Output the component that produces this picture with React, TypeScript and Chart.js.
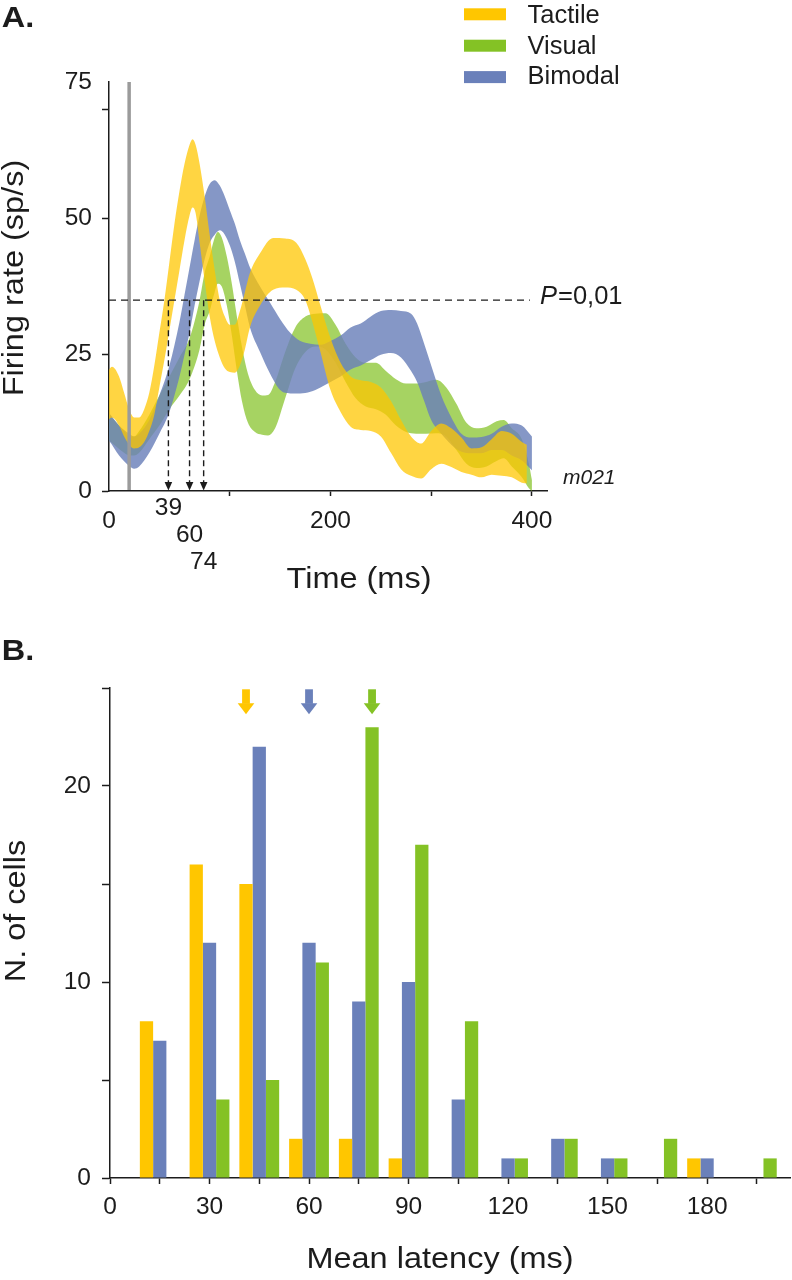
import React, { useEffect, useRef } from 'react';
import { Chart, registerables } from 'chart.js';

Chart.register(...registerables);

const FONT = "'Liberation Sans', Arial, Helvetica, sans-serif";
const INK = '#1c1c1c';

// ---------------- Panel A : firing rate bands (mean ± SE) ----------------
const tactileTime = [-25, -17, -10, -5, 0, 5, 10, 15, 20, 25, 30, 35, 40, 45, 50, 55, 60, 63, 66, 70, 75, 80, 85, 90, 95, 100, 105, 110, 115, 120, 130, 143, 155, 166, 175, 182, 190, 200, 210, 220, 230, 240, 250, 260, 270, 280, 290, 300, 310, 320, 330, 340, 350, 360, 370, 380, 390, 395];
const tactileUpper = [20, 22.8, 21, 18, 15, 13.5, 13.5, 15, 18, 23, 29, 35, 42, 49, 55, 60, 63.5, 64.5, 63.5, 60, 54, 47, 40.5, 35, 32, 30.5, 30.5, 33, 36.5, 40, 43.6, 46.4, 46.3, 45.5, 42.5, 39, 34, 28, 23.5, 21, 20.3, 20, 19, 16.5, 13, 10, 8.7, 11, 12.4, 11.5, 9.8, 7.8, 8, 9.5, 11, 10.5, 9, 8.5];
const tactileLower = [12, 13.5, 12, 10, 8.5, 7.8, 8, 9, 11, 14, 19, 24, 29.5, 35, 40.5, 46, 50.5, 52, 51, 45.5, 38.5, 32, 27.5, 24.5, 22.5, 21.8, 21.7, 23, 26, 30, 34, 36.9, 37.3, 36.9, 35, 31, 25.5, 18.5, 14.5, 11.8, 11.2, 11, 10, 7, 4, 2.8, 2.3, 4, 5, 4.4, 3.5, 3, 2.5, 3, 2.8, 2.5, 1.5, 1.4];

const visualTime = [-25, -15, -5, 0, 5, 10, 20, 30, 40, 50, 60, 70, 75, 80, 85, 88, 92, 97, 102, 107, 112, 118, 125, 132, 138, 145, 155, 165, 175, 185, 195, 205, 215, 225, 235, 245, 255, 265, 275, 285, 295, 305, 315, 325, 335, 345, 355, 365, 372, 380, 390, 397, 400];
const visualUpper = [15, 13, 11, 10, 10, 11, 14, 17.5, 21, 24.5, 28, 35, 40, 43, 46.5, 47.5, 46.5, 43, 38, 32, 26.5, 21.5, 18.5, 17.5, 17.6, 20, 25.5, 30, 32, 32.5, 32.6, 30.5, 27, 24.5, 23.5, 23.5, 22, 20.5, 19.7, 19.7, 20, 20.4, 19, 16, 12.5, 11.5, 11.8, 12.8, 13, 11.5, 9.5, 5, 2];
const visualLower = [10, 8.5, 7, 6.5, 6.5, 7, 9.5, 12, 15, 17.5, 20.5, 26, 30.5, 33, 36.5, 38, 37.5, 34, 28.5, 22, 16.5, 12.5, 10.8, 10.3, 10.2, 11.5, 17, 22.5, 25.5, 26.5, 26, 23.5, 20, 17, 15.5, 15, 14, 12, 10.8, 10.5, 10.5, 10.6, 10, 7.5, 5, 4.2, 4.5, 5.5, 6, 4.5, 2.5, 0.5, 0];

const bimodalTime = [-25, -20, -10, 0, 5, 10, 20, 30, 40, 50, 55, 60, 65, 70, 75, 80, 85, 90, 95, 100, 105, 110, 115, 120, 130, 140, 150, 160, 170, 180, 190, 200, 210, 220, 230, 240, 250, 260, 270, 280, 286, 293, 300, 310, 320, 330, 340, 350, 360, 370, 380, 390, 400];
const bimodalUpper = [15, 14.3, 12, 10.5, 10, 10.5, 13, 17.5, 23, 31, 36, 41, 46, 50.5, 54, 56.3, 57, 56, 54, 51.5, 49, 46, 43.5, 41, 37.5, 34.5, 31.5, 29, 27.5, 27, 26.8, 27.5, 28.5, 30, 30.7, 32, 33, 33.2, 33, 32.5, 30.7, 27, 23, 17.5, 13.5, 10.5, 9.8, 9.9, 10.5, 11.8, 12.4, 12, 10];
const bimodalLower = [10, 9.2, 6.5, 4.6, 4.1, 4.5, 7, 10.5, 14.5, 21, 25, 29, 34, 38.5, 42.5, 45.5, 47, 47.8, 47, 45, 42, 38, 34, 30, 25.5, 21.5, 18.5, 17.9, 17.9, 18.2, 19, 20, 21, 22.3, 23, 24, 25, 25.3, 24.5, 22, 20, 16.5, 13, 10.5, 8.5, 7.2, 6.9, 6.9, 7.5, 7.5, 6.5, 5.6, 3.8];

const onsetLatencies = [39, 60, 74]; // tactile, bimodal, visual
const thresholdRate = 35;
const thresholdEnd = 398;
const stimulusOnset = 0;
const timeTicks = [-20, 39, 60, 74, 100, 200, 300, 400];
const timeTickLabels: (string | string[])[] = [['', '0'], '39', ['', '', '60'], ['', '', '', '', '74'], '', ['', '200'], '', ['', '400']];
const markedTimeTicks = [100, 200, 300, 400];
const rateTicks = [0, 25, 50, 70, 75];
const rateTickLabels = ['0', '25', '50', '', '75'];

const legendNames = ['Tactile', 'Visual', 'Bimodal'];

// ---------------- Panel B : latency histogram ----------------
const latencyBins = [15, 30, 45, 60, 75, 90, 105, 120, 135, 150, 165, 180, 195];
const tactileCounts = [8, 16, 15, 2, 2, 1, 0, 0, 0, 0, 0, 1, 0];
const bimodalCounts = [7, 12, 22, 12, 9, 10, 4, 1, 2, 1, 0, 1, 0];
const visualCounts = [0, 4, 5, 11, 23, 17, 8, 1, 2, 1, 2, 0, 1];
const latencyTicks = [0, 15, 30, 45, 60, 75, 90, 105, 120, 135, 150, 165, 180, 195];
const countTicks = [0, 5, 10, 15, 20, 25];
const meanLatencies = [41, 60, 79]; // tactile, bimodal, visual

// colours
const TACTILE = '#FFC600';
const VISUAL = '#84C225';
const BIMODAL = '#6A80BA';
const TACTILE_BAND = 'rgba(255,198,0,0.74)';
const VISUAL_BAND = 'rgba(132,194,37,0.72)';
const BIMODAL_BAND = 'rgba(106,128,186,0.82)';
const legendColors = [TACTILE, VISUAL, BIMODAL];
const arrowColors = [TACTILE, BIMODAL, VISUAL];

type TextOpts = { size: number; weight?: string; style?: string; align?: CanvasTextAlign; baseline?: CanvasTextBaseline; rotate?: number; stretch?: number };

function drawText(ctx: CanvasRenderingContext2D, str: string, x: number, y: number, o: TextOpts) {
  ctx.save();
  ctx.translate(x, y);
  if (o.rotate) ctx.rotate(o.rotate);
  if (o.stretch) ctx.scale(o.stretch, 1);
  ctx.font = `${o.style || 'normal'} ${o.weight || 'normal'} ${o.size}px ${FONT}`;
  ctx.fillStyle = INK;
  ctx.textAlign = o.align || 'left';
  ctx.textBaseline = o.baseline || 'alphabetic';
  ctx.fillText(str, 0, 0);
  ctx.restore();
}

function band(time: number[], values: number[], label: string, color: string, fill: any) {
  return {
    label,
    data: time.map((t, i) => ({ x: t, y: values[i] })),
    fill,
    backgroundColor: color,
    borderColor: 'rgba(0,0,0,0)',
    borderWidth: 0,
    pointRadius: 0,
    cubicInterpolationMode: 'monotone' as const,
  };
}

const panelAPlugin = {
  id: 'panelA',
  afterDraw(chart: any) {
    const { ctx, chartArea: ca, scales } = chart;
    const x = scales.x;
    const y = scales.y;
    ctx.save();
    // stimulus onset
    const sx = x.getPixelForValue(stimulusOnset);
    ctx.strokeStyle = '#9b9b9b';
    ctx.lineWidth = 3.5;
    ctx.beginPath();
    ctx.moveTo(sx, ca.top);
    ctx.lineTo(sx, ca.bottom - 1);
    ctx.stroke();
    // significance threshold
    const ty = y.getPixelForValue(thresholdRate);
    ctx.strokeStyle = INK;
    ctx.lineWidth = 1.4;
    ctx.setLineDash([7, 5]);
    ctx.beginPath();
    ctx.moveTo(ca.left, ty);
    ctx.lineTo(x.getPixelForValue(thresholdEnd), ty);
    ctx.stroke();
    // onset latency arrows
    ctx.setLineDash([6, 4]);
    onsetLatencies.forEach((t) => {
      const px = x.getPixelForValue(t);
      ctx.beginPath();
      ctx.moveTo(px, ty);
      ctx.lineTo(px, ca.bottom - 8);
      ctx.stroke();
    });
    ctx.setLineDash([]);
    ctx.fillStyle = INK;
    onsetLatencies.forEach((t) => {
      const px = x.getPixelForValue(t);
      ctx.beginPath();
      ctx.moveTo(px - 3.8, ca.bottom - 9);
      ctx.lineTo(px + 3.8, ca.bottom - 9);
      ctx.lineTo(px, ca.bottom - 0.5);
      ctx.closePath();
      ctx.fill();
    });
    ctx.restore();

    // P=0,01 label
    const px0 = ca.right - 7;
    ctx.save();
    ctx.font = `italic normal 25.5px ${FONT}`;
    const pw = ctx.measureText('P').width;
    ctx.restore();
    drawText(ctx, 'P', px0, ty + 4, { size: 25.5, style: 'italic' });
    drawText(ctx, '=0,01', px0 + pw + 1, ty + 4, { size: 25.5 });
    // cell id
    drawText(ctx, 'm021', ca.right + 16, ca.bottom - 7, { size: 21, style: 'italic' });

    // legend
    legendNames.forEach((name, i) => {
      ctx.fillStyle = legendColors[i];
      ctx.fillRect(464, 8.3 + i * 31.4, 42, 12);
      drawText(ctx, name, 527.5, 22.7 + i * 30.8, { size: 25.5 });
    });

    // panel letter & axis titles
    drawText(ctx, 'A.', 1.7, 26.7, { size: 29, weight: 'bold', stretch: 1.12 });
    drawText(ctx, 'Time (ms)', 359, 588, { size: 29, align: 'center', stretch: 1.12 });
    drawText(ctx, 'Firing rate (sp/s)', 23.3, 278, { size: 29, align: 'center', rotate: -Math.PI / 2, stretch: 1.12 });
  },
};

const panelBPlugin = {
  id: 'panelB',
  afterDraw(chart: any) {
    const { ctx, scales } = chart;
    const x = scales.x;
    const y = scales.y;
    ctx.save();
    meanLatencies.forEach((m, i) => {
      const px = x.getPixelForValue(m);
      const top = y.getPixelForValue(25) + 1.3;
      ctx.fillStyle = arrowColors[i];
      ctx.fillRect(px - 3.9, top, 7.8, 14.5);
      ctx.beginPath();
      ctx.moveTo(px - 8.3, top + 14);
      ctx.lineTo(px + 8.3, top + 14);
      ctx.lineTo(px, top + 25);
      ctx.closePath();
      ctx.fill();
    });
    ctx.restore();
    drawText(ctx, 'B.', 1.7, 40, { size: 29, weight: 'bold', stretch: 1.12 });
    drawText(ctx, 'N. of cells', 25, 291, { size: 29, align: 'center', rotate: -Math.PI / 2, stretch: 1.12 });
    drawText(ctx, 'Mean latency (ms)', 440, 648.3, { size: 29, align: 'center', stretch: 1.12 });
  },
};

const tickFont = { family: FONT, size: 24.5 };
const axisBorder = { display: true, color: INK, width: 1.5 };

function configA(): any {
  return {
    type: 'line',
    data: {
      datasets: [
        band(tactileTime, tactileUpper, 'Tactile', TACTILE_BAND, '+1'),
        band(tactileTime, tactileLower, 'Tactile lower', TACTILE_BAND, false),
        band(bimodalTime, bimodalUpper, 'Bimodal', BIMODAL_BAND, '+1'),
        band(bimodalTime, bimodalLower, 'Bimodal lower', BIMODAL_BAND, false),
        band(visualTime, visualUpper, 'Visual', VISUAL_BAND, '+1'),
        band(visualTime, visualLower, 'Visual lower', VISUAL_BAND, false),
      ],
    },
    options: {
      responsive: false,
      animation: false,
      events: [],
      layout: { padding: { left: 0, top: 82, right: 245, bottom: 0 } },
      plugins: { legend: { display: false }, tooltip: { enabled: false } },
      scales: {
        x: {
          type: 'linear',
          min: -20,
          max: 415,
          afterBuildTicks: (s: any) => { s.ticks = timeTicks.map((v) => ({ value: v })); },
          afterFit: (s: any) => { s.height = 129; },
          ticks: {
            autoSkip: false,
            maxRotation: 0,
            minRotation: 0,
            padding: 5,
            color: INK,
            font: { family: FONT, size: 24.5, lineHeight: 0.56 },
            callback: (v: number) => {
              const i = timeTicks.indexOf(v);
              return i >= 0 ? timeTickLabels[i] : '';
            },
          },
          grid: {
            drawOnChartArea: false,
            drawTicks: true,
            tickLength: 5,
            tickWidth: 1.5,
            tickColor: (c: any) => (c.tick && markedTimeTicks.includes(c.tick.value) ? INK : 'rgba(0,0,0,0)'),
          },
          border: axisBorder,
        },
        y: {
          type: 'linear',
          min: 0,
          max: 75,
          afterBuildTicks: (s: any) => { s.ticks = rateTicks.map((v) => ({ value: v })); },
          afterFit: (s: any) => { s.width = 109; },
          ticks: {
            padding: 10,
            color: INK,
            font: tickFont,
            callback: (v: number) => {
              const i = rateTicks.indexOf(v);
              return i >= 0 ? rateTickLabels[i] : '';
            },
          },
          grid: {
            drawOnChartArea: false,
            drawTicks: true,
            tickLength: 7,
            tickWidth: 1.5,
            tickColor: (c: any) => (c.tick && c.tick.value === 75 ? 'rgba(0,0,0,0)' : INK),
          },
          border: axisBorder,
        },
      },
    },
    plugins: [panelAPlugin],
  };
}

function bars(label: string, counts: number[], color: string) {
  return {
    label,
    data: latencyBins.map((b, i) => ({ x: b, y: counts[i] === 0 ? null : counts[i] })),
    backgroundColor: color,
    borderWidth: 0,
    categoryPercentage: 0.8,
    barPercentage: 1,
  };
}

function configB(): any {
  return {
    type: 'bar',
    data: {
      datasets: [
        bars('Tactile', tactileCounts, TACTILE),
        bars('Bimodal', bimodalCounts, BIMODAL),
        bars('Visual', visualCounts, VISUAL),
      ],
    },
    options: {
      responsive: false,
      animation: false,
      events: [],
      layout: { padding: { left: 0, top: 68, right: 2, bottom: 0 } },
      plugins: { legend: { display: false }, tooltip: { enabled: false } },
      scales: {
        x: {
          type: 'linear',
          min: 0,
          max: 205,
          offset: false,
          afterBuildTicks: (s: any) => { s.ticks = latencyTicks.map((v) => ({ value: v })); },
          afterFit: (s: any) => { s.height = 102; },
          ticks: {
            autoSkip: false,
            maxRotation: 0,
            minRotation: 0,
            padding: 9,
            color: INK,
            font: tickFont,
            callback: (v: number) => (v % 30 === 0 ? String(v) : ''),
          },
          grid: { offset: false, drawOnChartArea: false, drawTicks: true, tickLength: 6, tickWidth: 1.5, tickColor: INK },
          border: axisBorder,
        },
        y: {
          type: 'linear',
          min: 0,
          max: 25,
          afterBuildTicks: (s: any) => { s.ticks = countTicks.map((v) => ({ value: v })); },
          afterFit: (s: any) => { s.width = 110; },
          ticks: {
            padding: 11,
            color: INK,
            font: tickFont,
            callback: (v: number) => (v % 10 === 0 ? String(v) : ''),
          },
          grid: { drawOnChartArea: false, drawTicks: true, tickLength: 8, tickWidth: 1.5, tickColor: INK },
          border: axisBorder,
        },
      },
    },
    plugins: [panelBPlugin],
  };
}

export default function App() {
  const refA = useRef<HTMLCanvasElement>(null);
  const refB = useRef<HTMLCanvasElement>(null);

  useEffect(() => {
    const a = new Chart(refA.current as HTMLCanvasElement, configA());
    const b = new Chart(refB.current as HTMLCanvasElement, configB());
    return () => {
      a.destroy();
      b.destroy();
    };
  }, []);

  return (
    <div style={{ position: 'absolute', left: 0, top: 0, width: 792, height: 1280, background: '#ffffff', overflow: 'hidden' }}>
      <canvas ref={refA} width={792} height={620} style={{ position: 'absolute', left: 0, top: 0, width: 792, height: 620 }} />
      <canvas ref={refB} width={792} height={660} style={{ position: 'absolute', left: 0, top: 620, width: 792, height: 660 }} />
    </div>
  );
}
